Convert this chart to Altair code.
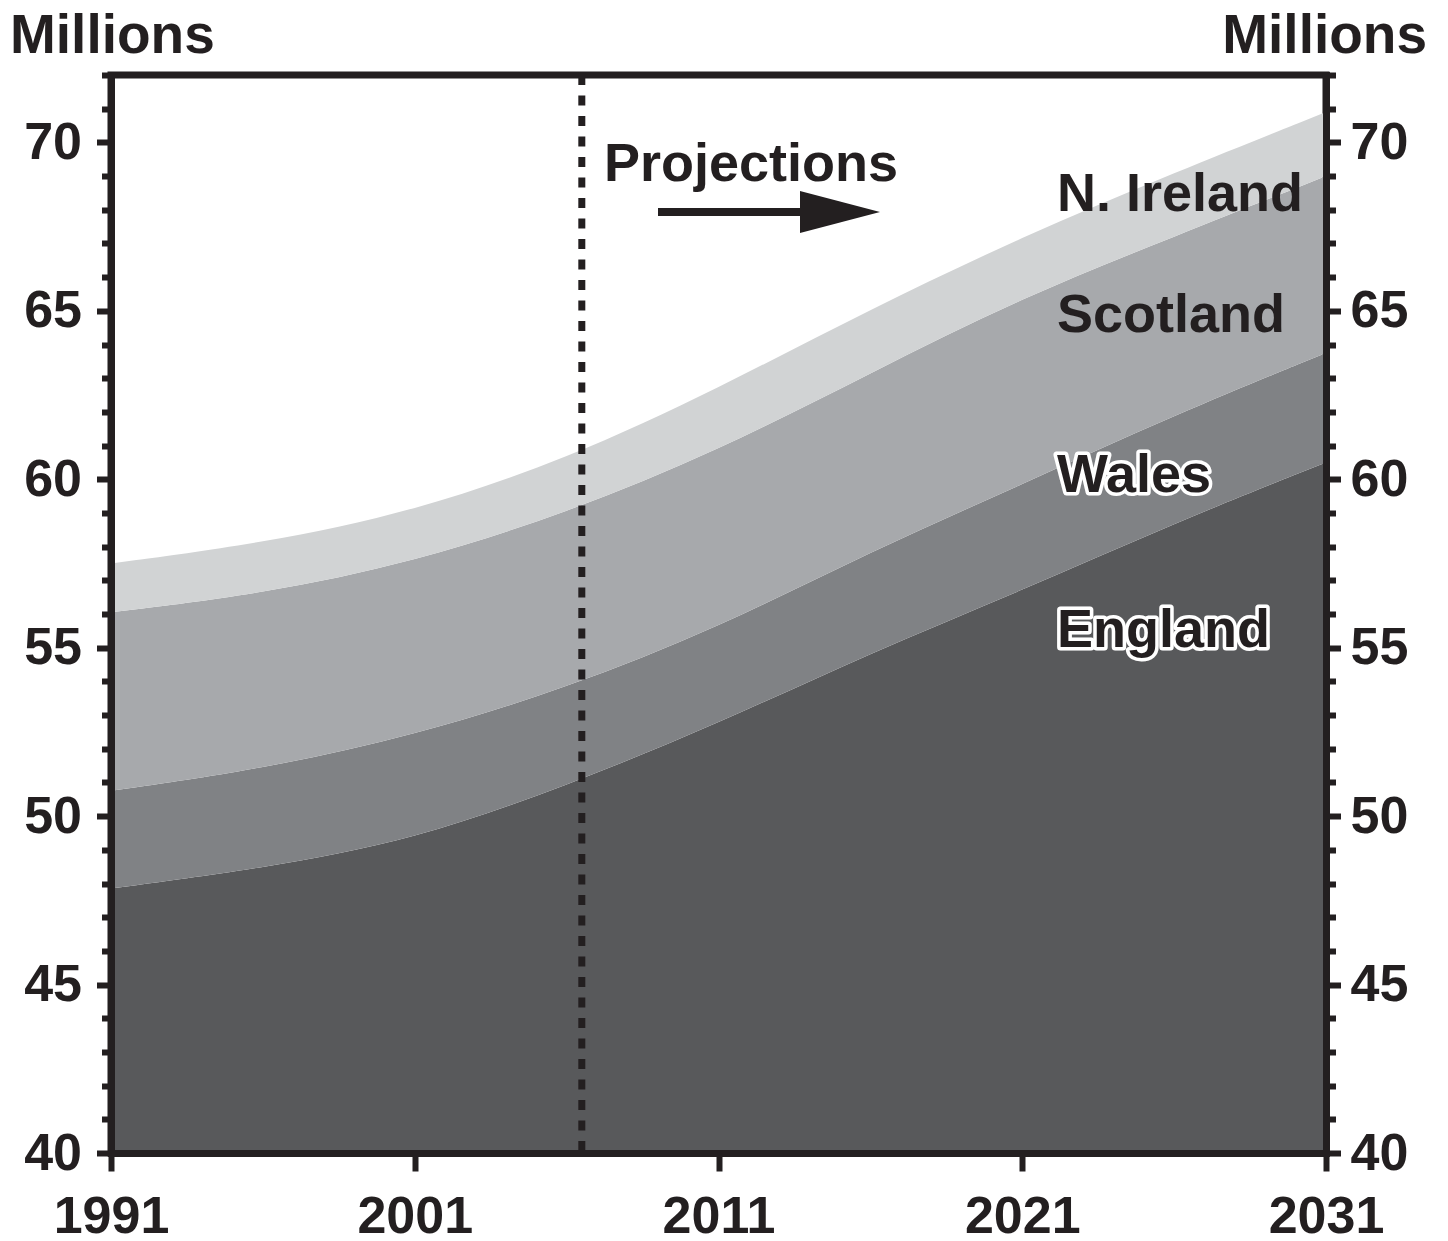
import altair as alt
import pandas as pd

# ---------------- data (millions) ----------------
years = [1991, 1996, 2001, 2006, 2011, 2016, 2021, 2026, 2031]
england = [47.85, 48.45, 49.3, 50.9, 52.75, 54.85, 56.7, 58.7, 60.5]
wales = [2.9, 2.95, 3.1, 2.9, 2.85, 3.0, 3.15, 3.2, 3.25]
scotland = [5.3, 5.2, 5.15, 5.2, 5.25, 5.3, 5.55, 5.3, 5.25]
n_ireland = [1.45, 1.5, 1.5, 1.6, 1.85, 1.9, 1.8, 1.9, 1.9]

countries = ["England", "Wales", "Scotland", "N. Ireland"]
colors = ["#58595b", "#808285", "#a7a9ac", "#d1d3d4"]
projection_start = 2006.5
x_ticks = [1991, 2001, 2011, 2021, 2031]
y_ticks = list(range(40, 73))
y_title = "Millions"
projection_label = "Projections"

# ---------------- layout ----------------
INK = "#231f20"
FONT = "Liberation Sans"
W, H = 1215, 1078
label_x = 946
label_baselines = {"N. Ireland": 136, "Scotland": 257, "Wales": 417, "England": 572}
outlined = {"Wales", "England"}

series = [england, wales, scotland, n_ireland]
rows = []
for i, (c, vals) in enumerate(zip(countries, series)):
    for yr, v in zip(years, vals):
        rows.append({"year": yr, "country": c, "pop": v, "order": i})
df = pd.DataFrame(rows)

x_enc = alt.X(
    "year:Q",
    scale=alt.Scale(domain=[1991, 2031], nice=False, zero=False),
    axis=alt.Axis(values=x_ticks, format="d", title=None, tickSize=18,
                  labelPadding=20, labelFlush=False, labelOverlap=False,
                  grid=False, zindex=1),
)
y_scale = alt.Scale(domain=[40, 72], nice=False, zero=False)


def y_axis(orient, pad):
    return alt.Axis(
        orient=orient,
        values=y_ticks,
        labelExpr="datum.value % 5 === 0 ? datum.label : ''",
        tickSize={"condition": {"test": "datum.value % 5 === 0", "value": 14.5}, "value": 9.5},
        labelPadding=pad,
        labelOverlap=False,
        labelFlush=False,
        title=None,
        grid=False,
        zindex=1,
    )


area = alt.Chart(df).mark_area(clip=True, interpolate="basis").encode(
    x=x_enc,
    y=alt.Y("pop:Q", stack="zero", scale=y_scale, axis=y_axis("left", 15)),
    color=alt.Color("country:N", scale=alt.Scale(domain=countries, range=colors), legend=None),
    order=alt.Order("order:Q"),
)

right = alt.Chart(df).mark_point(opacity=0, clip=True).encode(
    x=x_enc,
    y=alt.Y("pop:Q", scale=y_scale, axis=y_axis("right", 9.5)),
)

rule = alt.Chart(alt.Data(values=[{"year": projection_start}])).mark_rule(
    color=INK, strokeWidth=7, strokeDash=[10, 10.5]
).encode(x=x_enc)

layers = [area, right, rule]

# axis unit titles ("Millions") at both top corners
for px, al in [(-101, "left"), (W + 101, "right")]:
    layers.append(
        alt.Chart(alt.Data(values=[{"label": y_title}])).mark_text(
            align=al, baseline="alphabetic", font=FONT, fontSize=55, fontWeight="bold", color=INK
        ).encode(x=alt.value(px), y=alt.value(-22), text="label:N")
    )

for name in countries:
    d = alt.Data(values=[{"label": name}])
    enc = dict(x=alt.value(label_x), y=alt.value(label_baselines[name]), text="label:N")
    if name in outlined:
        layers.append(
            alt.Chart(d).mark_text(align="left", baseline="alphabetic", font=FONT, fontSize=54,
                                   fontWeight="bold", fill=INK, stroke="white", strokeWidth=7,
                                   strokeJoin="round").encode(**enc)
        )
    layers.append(
        alt.Chart(d).mark_text(align="left", baseline="alphabetic", font=FONT, fontSize=54,
                               fontWeight="bold", color=INK).encode(**enc)
    )

layers.append(
    alt.Chart(alt.Data(values=[{"label": projection_label}])).mark_text(
        align="left", baseline="alphabetic", font=FONT, fontSize=54, fontWeight="bold", color=INK
    ).encode(x=alt.value(493), y=alt.value(106), text="label:N")
)

arrow_d = alt.Data(values=[{"a": 1}])
layers.append(
    alt.Chart(arrow_d).mark_rule(color=INK, strokeWidth=8).encode(
        x=alt.value(547), x2=alt.value(700), y=alt.value(137)
    )
)
layers.append(
    alt.Chart(arrow_d).mark_point(
        shape="M-1,-0.525L1,0L-1,0.525Z", size=6400, filled=True, color=INK, opacity=1, strokeWidth=0
    ).encode(x=alt.value(729), y=alt.value(137))
)

chart = (
    alt.layer(*layers)
    .resolve_scale(y="independent")
    .properties(
        width=W,
        height=H,
        padding={"left": 103, "top": 67, "right": 110, "bottom": 100},
        autosize=alt.AutoSizeParams(type="none"),
        background="white",
    )
    .configure_view(stroke=INK, strokeWidth=7)
    .configure_axis(
        domainColor=INK, domainWidth=7, domainCap="square",
        tickColor=INK, tickWidth=6,
        labelColor=INK, labelFont=FONT, labelFontSize=52, labelFontWeight="bold",
    )
)

chart.save("out.html", embed_options={"renderer": "svg", "actions": False})
